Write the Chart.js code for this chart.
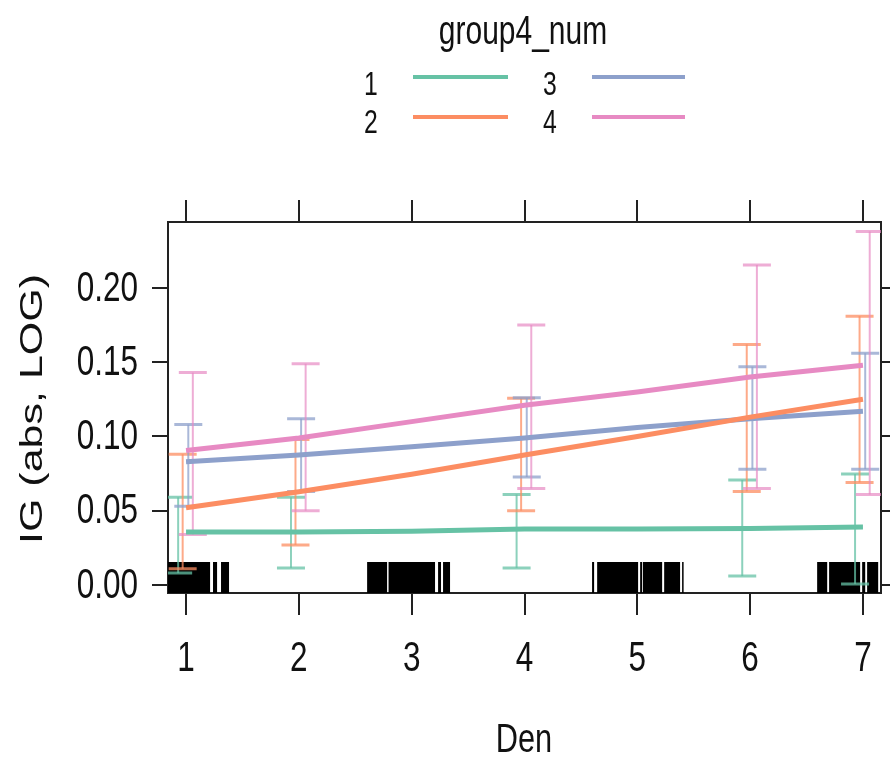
<!DOCTYPE html>
<html>
<head>
<meta charset="utf-8">
<script src="https://cdn.jsdelivr.net/npm/chart.js@4.4.0/dist/chart.umd.min.js"></script>
<style>
  html, body { margin: 0; padding: 0; background: #fff; }
  #wrap { width: 890px; height: 757px; }
</style>
</head>
<body>
<div id="wrap"><canvas id="chart" width="890" height="757"></canvas></div>
<script>
// --- data ---
const groups = ['1', '2', '3', '4'];
const colors = ['#66C2A5', '#FC8D62', '#8DA0CB', '#E78AC3'];
const barColors = ['rgba(102,194,165,0.75)', 'rgba(252,141,98,0.75)', 'rgba(141,160,203,0.75)', 'rgba(231,138,195,0.7)'];

// fitted lines
const denValues = [1, 2, 3, 4, 5, 6, 7];
const fit1 = [0.0357, 0.0357, 0.0362, 0.0377, 0.0377, 0.0381, 0.0390];
const fit2 = [0.0520, 0.0628, 0.0745, 0.0875, 0.1000, 0.1130, 0.1250];
const fit3 = [0.0830, 0.0875, 0.0930, 0.0990, 0.1060, 0.1120, 0.1170];
const fit4 = [0.0905, 0.0990, 0.1100, 0.1210, 0.1300, 0.1400, 0.1480];

// error bars
const ciDen = [1, 2, 4, 6, 7];
const lower1 = [0.0080, 0.0115, 0.0115, 0.0060, 0.0007];
const upper1 = [0.0590, 0.0590, 0.0610, 0.0707, 0.0747];
const lower2 = [0.0110, 0.0270, 0.0500, 0.0630, 0.0690];
const upper2 = [0.0880, 0.0980, 0.1257, 0.1620, 0.1810];
const lower3 = [0.0530, 0.0630, 0.0727, 0.0780, 0.0780];
const upper3 = [0.1080, 0.1120, 0.1260, 0.1470, 0.1560];
const lower4 = [0.0340, 0.0500, 0.0650, 0.0650, 0.0610];
const upper4 = [0.1430, 0.1490, 0.1750, 0.2155, 0.2380];

// rug (solid runs of Den observations)
const rugBlocks = [
  [0.84, 1.213], [1.239, 1.275], [1.31, 1.381],
  [2.605, 2.782], [2.795, 3.207], [3.234, 3.26], [3.278, 3.34],
  [4.599, 4.617], [4.644, 5.007], [5.025, 5.043], [5.05, 5.22], [5.238, 5.379], [5.397, 5.406],
  [6.594, 6.683], [6.70, 6.975], [6.993, 7.02], [7.037, 7.135]
];

const xTicks = [1, 2, 3, 4, 5, 6, 7];
const yTicks = [0, 0.05, 0.10, 0.15, 0.20];

const fits = [fit1, fit2, fit3, fit4];
const lowers = [lower1, lower2, lower3, lower4];
const uppers = [upper1, upper2, upper3, upper4];
const dodge = [-0.07, -0.03, 0.02, 0.06];

const FONT = "'Liberation Sans', Arial, sans-serif";
const INK = '#222';
const SQUEEZE = 0.75; // the original's text is narrow

// rug + error bars, under the lines
const underlay = {
  id: 'underlay',
  beforeDatasetsDraw(chart) {
    const { ctx, chartArea: a, scales } = chart;
    const xs = scales.x, ys = scales.y;
    ctx.save();
    ctx.beginPath();
    ctx.rect(a.left, a.top, a.right - a.left, a.bottom - a.top);
    ctx.clip();

    ctx.fillStyle = '#000';
    rugBlocks.forEach(([from, to]) => {
      const x0 = xs.getPixelForValue(from);
      const x1 = xs.getPixelForValue(to);
      ctx.fillRect(x0, a.bottom - 31, Math.max(x1 - x0, 1.5), 31);
    });

    for (let g = 0; g < groups.length; g++) {
      ctx.strokeStyle = barColors[g];
      ciDen.forEach((d, i) => {
        const x = xs.getPixelForValue(d + dodge[g]);
        const yLo = ys.getPixelForValue(lowers[g][i]);
        const yHi = ys.getPixelForValue(uppers[g][i]);
        ctx.lineWidth = 2;
        ctx.beginPath();
        ctx.moveTo(x, yLo);
        ctx.lineTo(x, yHi);
        ctx.stroke();
        ctx.lineWidth = 3;
        ctx.beginPath();
        ctx.moveTo(x - 14, yLo); ctx.lineTo(x + 14, yLo);
        ctx.moveTo(x - 14, yHi); ctx.lineTo(x + 14, yHi);
        ctx.stroke();
      });
    }
    ctx.restore();
  }
};

function narrowText(ctx, str, x, y, size, align, baseline) {
  ctx.save();
  ctx.translate(x, y);
  ctx.scale(SQUEEZE, 1);
  ctx.font = size + 'px ' + FONT;
  ctx.textAlign = align;
  ctx.textBaseline = baseline;
  ctx.fillText(str, 0, 0);
  ctx.restore();
}

// tick labels, legend block on top, axis titles
const labels = {
  id: 'labels',
  afterDraw(chart) {
    const { ctx, scales } = chart;
    ctx.save();
    ctx.fillStyle = '#111';

    scales.x.ticks.forEach(t => {
      narrowText(ctx, String(t.value), scales.x.getPixelForValue(t.value), 659, 42, 'center', 'middle');
    });
    scales.y.ticks.forEach(t => {
      narrowText(ctx, t.value.toFixed(2), 138, scales.y.getPixelForValue(t.value) + 1, 42, 'right', 'middle');
    });

    narrowText(ctx, 'group4_num', 523, 44, 40, 'center', 'alphabetic');

    // 2x2 key
    const cols = [{ tx: 371, x0: 413, x1: 508 }, { tx: 550, x0: 592, x1: 685 }];
    const rows = [{ ty: 95, ly: 77 }, { ty: 133, ly: 117 }];
    for (let g = 0; g < groups.length; g++) {
      const c = cols[Math.floor(g / 2)];
      const r = rows[g % 2];
      narrowText(ctx, groups[g], c.tx, r.ty, 33, 'center', 'alphabetic');
      ctx.strokeStyle = colors[g];
      ctx.lineWidth = 4;
      ctx.beginPath();
      ctx.moveTo(c.x0, r.ly);
      ctx.lineTo(c.x1, r.ly);
      ctx.stroke();
    }

    narrowText(ctx, 'Den', 524, 741, 41, 'center', 'middle');

    ctx.translate(33, 409);
    ctx.scale(SQUEEZE, 1);
    ctx.rotate(-Math.PI / 2);
    ctx.textAlign = 'center';
    ctx.textBaseline = 'middle';
    ctx.font = '43px ' + FONT;
    ctx.fillText('IG (abs, LOG)', 0, 0);
    ctx.restore();
  }
};

function axis(position, size, tickLen, tickList, range) {
  return Object.assign({
    type: 'linear',
    position: position,
    afterFit: (s) => {
      if (position === 'left' || position === 'right') s.width = size;
      else s.height = size;
    },
    afterBuildTicks: (s) => { s.ticks = tickList.map(v => ({ value: v })); },
    grid: { drawOnChartArea: false, drawTicks: true, tickLength: tickLen, color: INK, lineWidth: 2 },
    border: { display: true, color: INK, width: 2 },
    ticks: { display: false }
  }, range);
}

const datasets = groups.map((g, k) => ({
  label: g,
  data: denValues.map((d, i) => ({ x: d, y: fits[k][i] })),
  borderColor: colors[k],
  borderWidth: 5,
  pointRadius: 0,
  tension: 0,
  fill: false,
  xAxisID: 'x',
  yAxisID: 'y'
}));

const xRange = { min: 0.84, max: 7.16 };
const yRange = { min: -0.0054, max: 0.2444 };

new Chart(document.getElementById('chart'), {
  type: 'line',
  data: { datasets },
  options: {
    responsive: false,
    animation: false,
    layout: { padding: 0 },
    plugins: { legend: { display: false }, title: { display: false }, tooltip: { enabled: false } },
    scales: {
      x: axis('bottom', 164, 22, xTicks, xRange),
      x2: axis('top', 222, 22, xTicks, xRange),
      y: axis('left', 168, 16, yTicks, yRange),
      y2: axis('right', 9, 9, yTicks, yRange)
    }
  },
  plugins: [underlay, labels]
});
</script>
</body>
</html>
